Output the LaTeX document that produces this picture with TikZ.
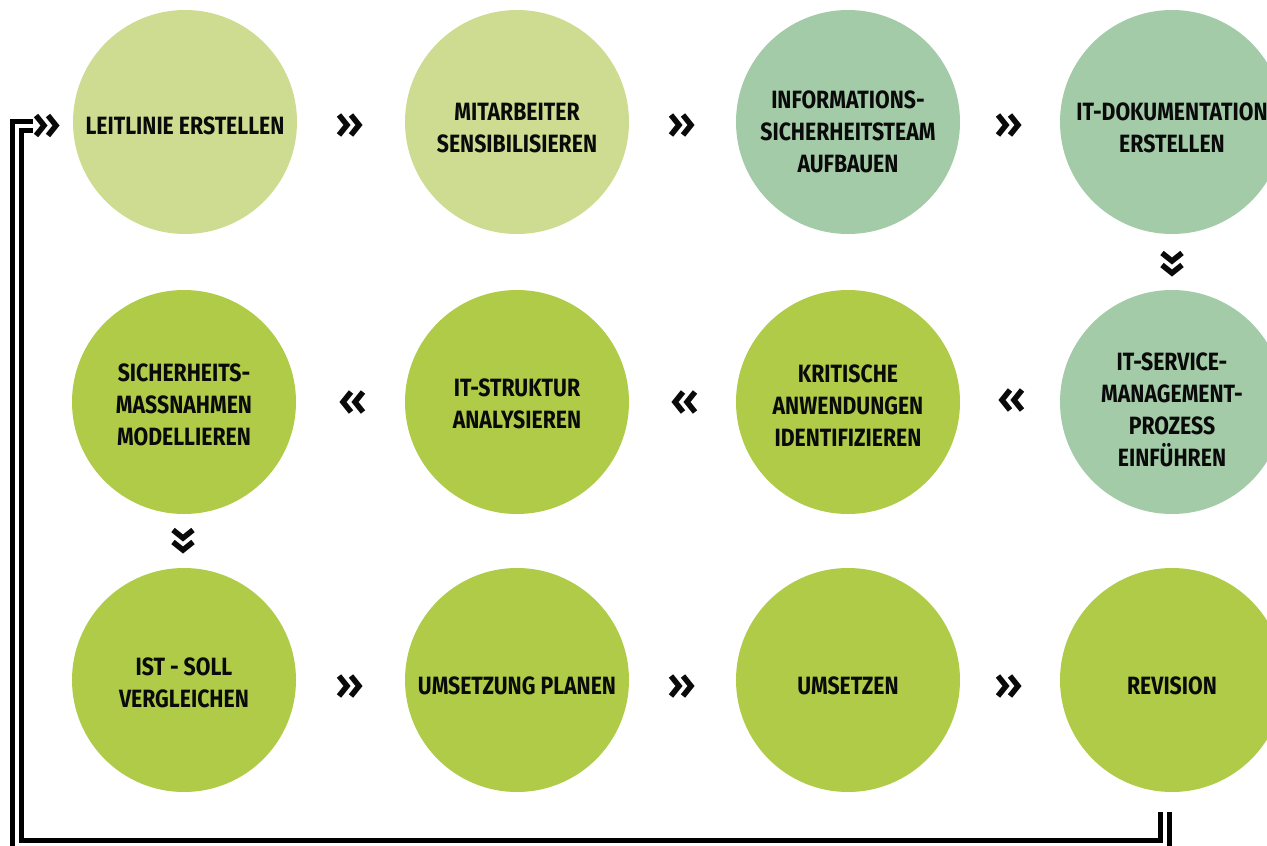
\documentclass[tikz,border=0pt]{standalone}
\usepackage{fontspec}
\newfontfamily\lblfont{Fira Sans}[FakeStretch=0.85]
\definecolor{cLight}{HTML}{CDDC91}
\definecolor{cSage}{HTML}{A3CBA8}
\definecolor{cGreen}{HTML}{AFCB48}
\definecolor{cInk}{HTML}{0A0A0A}
\tikzset{
  circ/.style={circle, minimum size=224pt, inner sep=0pt, draw=none},
  lbl/.style={align=center, inner sep=0pt, text=cInk,
    font=\lblfont\bfseries\fontsize{25}{32}\selectfont},
  chev/.pic={
    \draw[line width=5.5pt, line join=miter, line cap=butt, cInk]
      (-12,-10) -- (-4,0) -- (-12,10)
      (0,-10) -- (8,0) -- (0,10);
  },
  loopline/.style={draw=black, double=white, line width=5pt,
    double distance=4pt, line join=miter}
}
\begin{document}
\begin{tikzpicture}[x=1pt, y=-1pt]
\useasboundingbox (0,0) rectangle (1267,846);
\clip (0,0) rectangle (1267,846);
\fill[white] (0,0) rectangle (1267,846);
% row 1
\node[circ, fill=cLight] (n1) at (185,122) {};
\node[circ, fill=cLight] (n2) at (517,122) {};
\node[circ, fill=cSage]  (n3) at (848,122) {};
\node[circ, fill=cSage]  (n4) at (1172,122) {};
% row 2
\node[circ, fill=cSage]  (n5) at (1172,402) {};
\node[circ, fill=cGreen] (n6) at (848,402) {};
\node[circ, fill=cGreen] (n7) at (517,402) {};
\node[circ, fill=cGreen] (n8) at (184,402) {};
% row 3
\node[circ, fill=cGreen] (n9)  at (184,680) {};
\node[circ, fill=cGreen] (n10) at (517,680) {};
\node[circ, fill=cGreen] (n11) at (848,680) {};
\node[circ, fill=cGreen] (n12) at (1172,680) {};
% labels
\node[lbl] (t1) at ([yshift=-4pt]n1.center) {LEITLINIE ERSTELLEN};
\node[lbl] (t2) at ([yshift=-6pt]n2.center) {MITARBEITER\\SENSIBILISIEREN};
\node[lbl] (t3) at ([yshift=-10pt]n3.center) {INFORMATIONS-\\SICHERHEITSTEAM\\AUFBAUEN};
\node[lbl] (t4) at ([yshift=-6pt]n4.center) {IT-DOKUMENTATION\\ERSTELLEN};
\node[lbl] (t5) at ([yshift=-8pt]n5.center) {IT-SERVICE-\\MANAGEMENT-\\PROZESS\\EINFÜHREN};
\node[lbl] (t6) at ([yshift=-4pt]n6.center) {KRITISCHE\\ANWENDUNGEN\\IDENTIFIZIEREN};
\node[lbl] (t7) at ([yshift=-2pt]n7.center) {IT-STRUKTUR\\ANALYSIEREN};
\node[lbl] (t8) at ([yshift=-3pt]n8.center) {SICHERHEITS-\\MASSNAHMEN\\MODELLIEREN};
\node[lbl] (t9) at ([yshift=-3pt]n9.center) {IST - SOLL\\VERGLEICHEN};
\node[lbl] (t10) at ([yshift=-6pt]n10.center) {UMSETZUNG PLANEN};
\node[lbl] (t11) at ([yshift=-6pt]n11.center) {UMSETZEN};
\node[lbl] (t12) at ([yshift=-6pt]n12.center) {REVISION};
% chevrons
\pic (a12) at (351,125) {chev};
\pic (a23) at (683,125) {chev};
\pic (a34) at (1010,125) {chev};
\pic[rotate=-90] (a45) at (1172,265) {chev};
\pic[rotate=180] (a56) at (1010,400) {chev};
\pic[rotate=180] (a67) at (683,402) {chev};
\pic[rotate=180] (a78) at (351,402) {chev};
\pic[rotate=-90] (a89) at (183,542) {chev};
\pic (a910) at (351,686) {chev};
\pic (a1011) at (683,686) {chev};
\pic (a1112) at (1010,686) {chev};
% loop back
\coordinate (ls) at (1164.5,812);
\coordinate (le) at (33,125.5);
\pic (aloop) at (48,125.5) {chev};
\draw[loopline] (ls) -- (1164.5,844.5) -- (16.5,844.5) -- (16.5,125.5) -- (le);
\end{tikzpicture}
\end{document}
